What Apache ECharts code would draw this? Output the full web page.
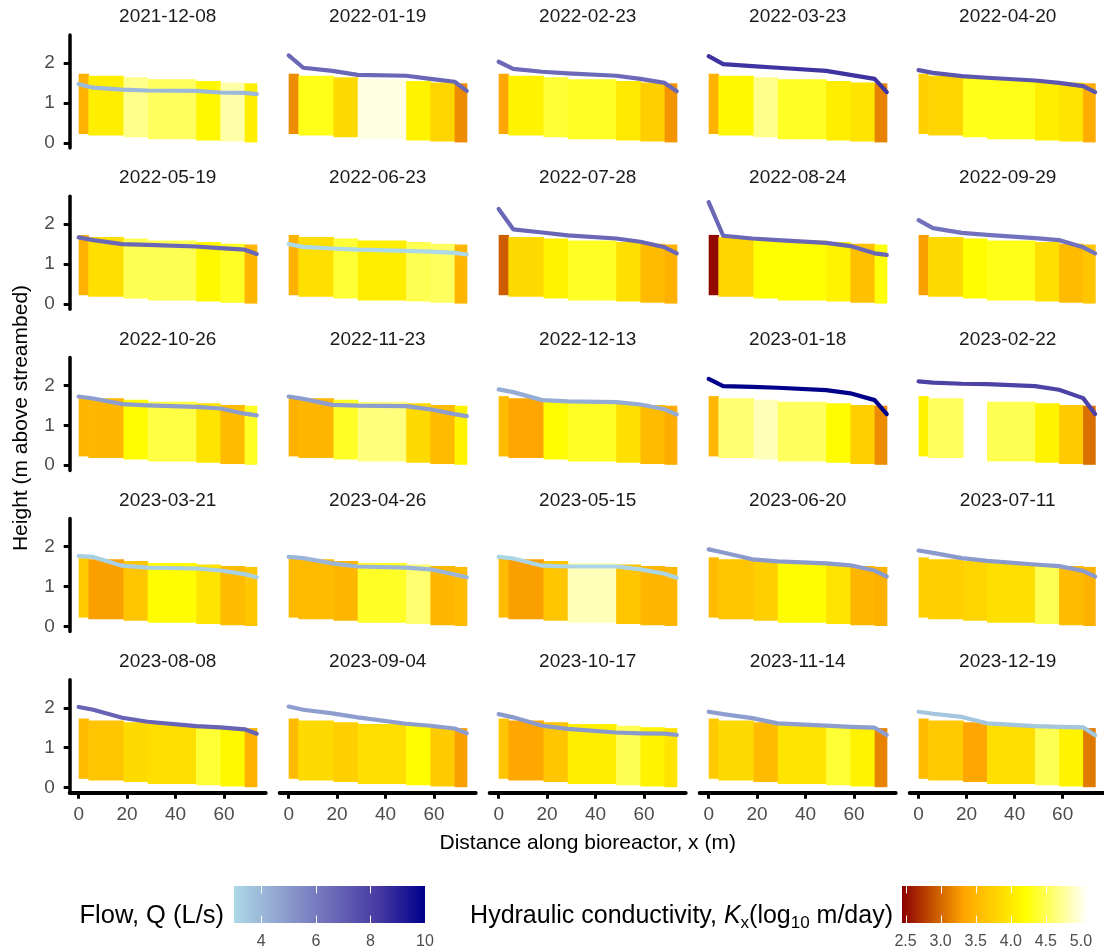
<!DOCTYPE html>
<html><head><meta charset="utf-8">
<script src="https://cdn.jsdelivr.net/npm/echarts@6/dist/echarts.min.js"></script>
<style>html,body{margin:0;padding:0;background:#fff}#chart{width:1104px;height:950px}</style>
</head><body><div id="chart"></div>
<script>
// ---------------- data ----------------
const dates = ['2021-12-08','2022-01-19','2022-02-23','2022-03-23','2022-04-20',
  '2022-05-19','2022-06-23','2022-07-28','2022-08-24','2022-09-29',
  '2022-10-26','2022-11-23','2022-12-13','2023-01-18','2023-02-22',
  '2023-03-21','2023-04-26','2023-05-15','2023-06-20','2023-07-11',
  '2023-08-08','2023-09-04','2023-10-17','2023-11-14','2023-12-19'];
const cellEdges = [0, 4, 18.5, 28.5, 48.5, 58.5, 68.5, 73.5];
const cellTop = [1.73, 1.68, 1.64, 1.59, 1.55, 1.51, 1.49];
const cellBottom = [0.22, 0.18, 0.14, 0.09, 0.06, 0.03, 0.01];
const kValues = [
  [3.45, 4.05, 4.7, 4.55, 4.15, 4.8, 4.05],
  [3.2, 4.3, 3.85, 5.0, 4.1, 3.8, 3.2],
  [3.35, 4.1, 4.4, 4.35, 4.0, 3.75, 3.25],
  [3.45, 4.15, 4.7, 4.35, 4.05, 3.95, 3.15],
  [3.75, 3.8, 4.3, 4.3, 4.05, 3.95, 3.4],
  [3.45, 3.9, 4.5, 4.5, 4.15, 4.35, 3.5],
  [3.45, 3.9, 4.4, 4.05, 4.5, 4.55, 3.5],
  [2.95, 3.85, 4.1, 4.35, 3.9, 3.55, 3.45],
  [2.5, 3.8, 4.22, 4.22, 4.1, 3.6, 4.25],
  [3.3, 3.85, 4.2, 4.3, 3.9, 3.55, 3.65],
  [3.5, 3.5, 4.2, 4.45, 3.95, 3.55, 4.35],
  [3.45, 3.5, 4.35, 4.65, 3.85, 3.55, 4.1],
  [3.55, 3.35, 4.2, 4.35, 3.9, 3.55, 3.4],
  [3.5, 4.6, 4.85, 4.55, 4.2, 3.75, 3.2],
  [4.1, 4.55, null, 4.5, 4.1, 3.7, 3.05],
  [3.7, 3.3, 3.65, 4.2, 3.95, 3.55, 3.65],
  [3.55, 3.55, 3.5, 4.35, 4.6, 3.5, 3.55],
  [3.55, 3.3, 3.65, 4.85, 3.65, 3.5, 3.5],
  [3.55, 3.65, 3.75, 4.2, 3.95, 3.5, 3.45],
  [3.75, 3.75, 3.8, 3.9, 4.5, 3.55, 3.45],
  [3.55, 3.65, 3.85, 3.9, 4.4, 4.15, 3.45],
  [3.55, 3.85, 3.75, 3.9, 4.2, 3.7, 3.3],
  [3.65, 3.35, 3.65, 4.05, 4.5, 4.1, 3.95],
  [3.7, 3.85, 3.55, 3.95, 4.4, 4.1, 3.15],
  [3.55, 3.7, 3.35, 3.9, 4.5, 4.1, 3.1]
];
const wellX = [0, 6, 18, 28.5, 48.5, 58.5, 68.5, 73.5];
const headValues = [
  [1.47, 1.38, 1.33, 1.31, 1.30, 1.26, 1.25, 1.22],
  [2.19, 1.88, 1.80, 1.70, 1.68, 1.60, 1.53, 1.30],
  [2.03, 1.85, 1.78, 1.74, 1.68, 1.60, 1.50, 1.29],
  [2.17, 1.97, 1.92, 1.88, 1.80, 1.70, 1.60, 1.27],
  [1.82, 1.75, 1.67, 1.63, 1.56, 1.50, 1.42, 1.27],
  [1.67, 1.60, 1.50, 1.48, 1.44, 1.40, 1.36, 1.25],
  [1.50, 1.43, 1.39, 1.36, 1.33, 1.31, 1.28, 1.24],
  [2.38, 1.87, 1.79, 1.72, 1.64, 1.56, 1.42, 1.27],
  [2.55, 1.71, 1.64, 1.60, 1.53, 1.45, 1.27, 1.23],
  [2.10, 1.90, 1.78, 1.73, 1.65, 1.60, 1.42, 1.27],
  [1.72, 1.67, 1.53, 1.50, 1.46, 1.42, 1.29, 1.25],
  [1.72, 1.66, 1.51, 1.49, 1.48, 1.40, 1.28, 1.23],
  [1.90, 1.83, 1.63, 1.60, 1.58, 1.52, 1.40, 1.27],
  [2.16, 1.98, 1.96, 1.94, 1.88, 1.80, 1.63, 1.28],
  [2.10, 2.07, 2.04, 2.03, 1.98, 1.89, 1.68, 1.28],
  [1.76, 1.74, 1.52, 1.47, 1.45, 1.40, 1.31, 1.23],
  [1.74, 1.71, 1.58, 1.50, 1.47, 1.43, 1.30, 1.23],
  [1.74, 1.70, 1.52, 1.50, 1.50, 1.43, 1.32, 1.22],
  [1.93, 1.85, 1.68, 1.63, 1.58, 1.53, 1.40, 1.25],
  [1.90, 1.84, 1.71, 1.64, 1.55, 1.51, 1.39, 1.25],
  [2.02, 1.95, 1.75, 1.65, 1.54, 1.51, 1.46, 1.35],
  [2.03, 1.95, 1.86, 1.76, 1.60, 1.55, 1.48, 1.36],
  [1.84, 1.76, 1.55, 1.47, 1.38, 1.36, 1.35, 1.32],
  [1.90, 1.84, 1.74, 1.61, 1.55, 1.52, 1.50, 1.32],
  [1.90, 1.85, 1.77, 1.61, 1.54, 1.52, 1.51, 1.31]
];
const flowQ = [4.0, 6.7, 6.6, 8.5, 7.3, 6.7, 3.0, 6.7, 6.7, 6.3,
  4.9, 4.9, 4.4, 10.0, 8.0, 3.3, 4.1, 3.1, 5.0, 5.0,
  6.8, 4.9, 5.0, 4.9, 3.6];
const xTicks = [0, 20, 40, 60];
const yTicks = [0, 1, 2];
const flowTicks = [4, 6, 8, 10];
const kTicks = [2.5, 3.0, 3.5, 4.0, 4.5, 5.0];
const kRange = [2.45, 5.1];

// ---------------- styling ----------------
const FONT = '"Liberation Sans", Arial, Helvetica, sans-serif';
const flowColors = ['#ADD8E6', '#8FA1D0', '#6E6DB9', '#483BA3', '#00008B'];
const kColors = ['#8B0000', '#FFA500', '#FFFF00', '#FFFFFF'];
const qMin = Math.min(...flowQ), qMax = Math.max(...flowQ);
const X_MIN = -3.7, X_MAX = 77.2, Y_MIN = -0.13, Y_MAX = 2.70;
const P_LEFT = 69.7, P_STEP_X = 210, P_W = 196;
const P_TOP = 35, P_STEP_Y = 161.2, P_H = 113;

const chart = echarts.init(document.getElementById('chart'), null, {renderer: 'canvas'});

const grids = [], xAxes = [], yAxes = [], series = [], graphics = [];
const cellSeriesIdx = [];

dates.forEach((d, i) => {
  const r = Math.floor(i / 5), c = i % 5;
  const left = P_LEFT + c * P_STEP_X, top = P_TOP + r * P_STEP_Y;
  grids.push({left: left, top: top, width: P_W, height: P_H, containLabel: false});
  const isBottom = r === 4, isLeft = c === 0;
  xAxes.push({
    type: 'value', gridIndex: i, min: X_MIN, max: X_MAX, position: 'bottom',
    splitLine: {show: false},
    axisLine: {show: isBottom, onZero: false, lineStyle: {color: '#000', width: 4}},
    axisTick: {show: isBottom, customValues: xTicks, length: 6, lineStyle: {color: '#000', width: 3}},
    axisLabel: {show: isBottom, customValues: xTicks, color: '#4d4d4d', fontSize: 19, fontFamily: FONT, margin: 12}
  });
  yAxes.push({
    type: 'value', gridIndex: i, min: Y_MIN, max: Y_MAX, position: 'left',
    splitLine: {show: false},
    axisLine: {show: isLeft, onZero: false, lineStyle: {color: '#000', width: 3.5}},
    axisTick: {show: isLeft, customValues: yTicks, length: 6, lineStyle: {color: '#000', width: 3}},
    axisLabel: {show: isLeft, customValues: yTicks, color: '#4d4d4d', fontSize: 19, fontFamily: FONT, margin: 15}
  });
  const cells = [];
  kValues[i].forEach((k, j) => {
    if (k != null) cells.push([cellEdges[j], cellEdges[j + 1], cellBottom[j], cellTop[j], k]);
  });
  cellSeriesIdx.push(series.length);
  series.push({
    type: 'custom', xAxisIndex: i, yAxisIndex: i, data: cells, silent: true, z: 2,
    encode: {x: [0, 1], y: [2, 3]},
    renderItem: function (params, api) {
      const p0 = api.coord([api.value(0), api.value(3)]);
      const p1 = api.coord([api.value(1), api.value(2)]);
      return {type: 'rect', shape: {x: p0[0], y: p0[1], width: p1[0] - p0[0] + 0.6, height: p1[1] - p0[1]},
        style: {fill: api.visual('color')}};
    }
  });
  const t = (flowQ[i] - qMin) / (qMax - qMin);
  series.push({
    type: 'line', xAxisIndex: i, yAxisIndex: i, silent: true, z: 3,
    data: wellX.map((x, j) => [x, headValues[i][j]]),
    showSymbol: false, symbol: 'none',
    lineStyle: {color: echarts.color.lerp(t, flowColors), width: 4.2, cap: 'round', join: 'round'}
  });
  graphics.push({type: 'text', x: left + P_W / 2, y: top - 18, silent: true,
    style: {text: d, fontSize: 19, fontFamily: FONT, fill: '#1a1a1a', textAlign: 'center', textVerticalAlign: 'middle'}});
});

// ---------- colour-bar legends ----------
function legendBar(gridIdx, min, max, ticks, colors, left, width) {
  grids.push({left: left, top: 886, width: width, height: 38});
  xAxes.push({type: 'value', gridIndex: gridIdx, min: min, max: max,
    splitLine: {show: false}, axisLine: {show: false}, axisTick: {show: false},
    axisLabel: {customValues: ticks, color: '#4d4d4d', fontSize: 16, fontFamily: FONT, margin: 11,
      formatter: v => (max < 6 ? v.toFixed(1) : String(v))}});
  yAxes.push({type: 'value', gridIndex: gridIdx, min: 0, max: 1, show: false});
  const stops = colors.map((c, k) => ({offset: k / (colors.length - 1), color: c}));
  series.push({type: 'custom', xAxisIndex: gridIdx, yAxisIndex: gridIdx, silent: true,
    data: [[min, max]], encode: {x: [0, 1]},
    renderItem: function (params, api) {
      const a = api.coord([api.value(0), 1]), b = api.coord([api.value(1), 0]);
      return {type: 'rect', shape: {x: a[0], y: a[1], width: b[0] - a[0], height: b[1] - a[1]},
        style: {fill: new echarts.graphic.LinearGradient(0, 0, 1, 0, stops)}};
    }});
  series.push({type: 'custom', xAxisIndex: gridIdx, yAxisIndex: gridIdx, silent: true, z: 3,
    data: ticks.map(v => [v]), encode: {x: 0},
    renderItem: function (params, api) {
      const a = api.coord([api.value(0), 1]), b = api.coord([api.value(0), 0]);
      const h = (b[1] - a[1]) / 5;
      const x = Math.round(a[0]) + 0.5;
      return {type: 'group', children: [
        {type: 'line', shape: {x1: x, y1: a[1], x2: x, y2: a[1] + h}, style: {stroke: '#fff', lineWidth: 1}},
        {type: 'line', shape: {x1: x, y1: b[1] - h, x2: x, y2: b[1]}, style: {stroke: '#fff', lineWidth: 1}}
      ]};
    }});
}
legendBar(25, qMin, qMax, flowTicks, flowColors, 234, 191);
legendBar(26, kRange[0], kRange[1], kTicks, kColors, 902, 186);

graphics.push({type: 'text', x: 224, y: 916, silent: true,
  style: {text: 'Flow, Q (L/s)', fontSize: 25.5, fontFamily: FONT, fill: '#000', textAlign: 'right', textVerticalAlign: 'middle'}});
graphics.push({type: 'text', x: 893, y: 916, silent: true,
  style: {
    text: '{n|Hydraulic conductivity, }{i|K}{s|x}{n|(log}{s|10}{n| m/day)}',
    textAlign: 'right', textVerticalAlign: 'middle', fill: '#000',
    rich: {
      n: {fontSize: 25, fontFamily: FONT, lineHeight: 32, verticalAlign: 'middle', fill: '#000'},
      i: {fontSize: 25, fontFamily: FONT, fontStyle: 'italic', lineHeight: 32, verticalAlign: 'middle', fill: '#000'},
      s: {fontSize: 17, fontFamily: FONT, lineHeight: 17, verticalAlign: 'bottom', fill: '#000'}
    }
  }});
// axis titles
graphics.push({type: 'text', x: (P_LEFT + P_LEFT + 4 * P_STEP_X + P_W) / 2, y: 843, silent: true,
  style: {text: 'Distance along bioreactor, x (m)', fontSize: 21, fontFamily: FONT, fill: '#000', textAlign: 'center', textVerticalAlign: 'middle'}});
graphics.push({type: 'text', x: 21, y: 418, rotation: Math.PI / 2, silent: true,
  style: {text: 'Height (m above streambed)', fontSize: 21, fontFamily: FONT, fill: '#000', textAlign: 'center', textVerticalAlign: 'middle'}});

chart.setOption({
  animation: false,
  backgroundColor: '#ffffff',
  grid: grids, xAxis: xAxes, yAxis: yAxes, series: series,
  visualMap: [{type: 'continuous', show: false, min: kRange[0], max: kRange[1], dimension: 4,
    seriesIndex: cellSeriesIdx, inRange: {color: kColors}}],
  graphic: graphics
});
</script></body></html>
